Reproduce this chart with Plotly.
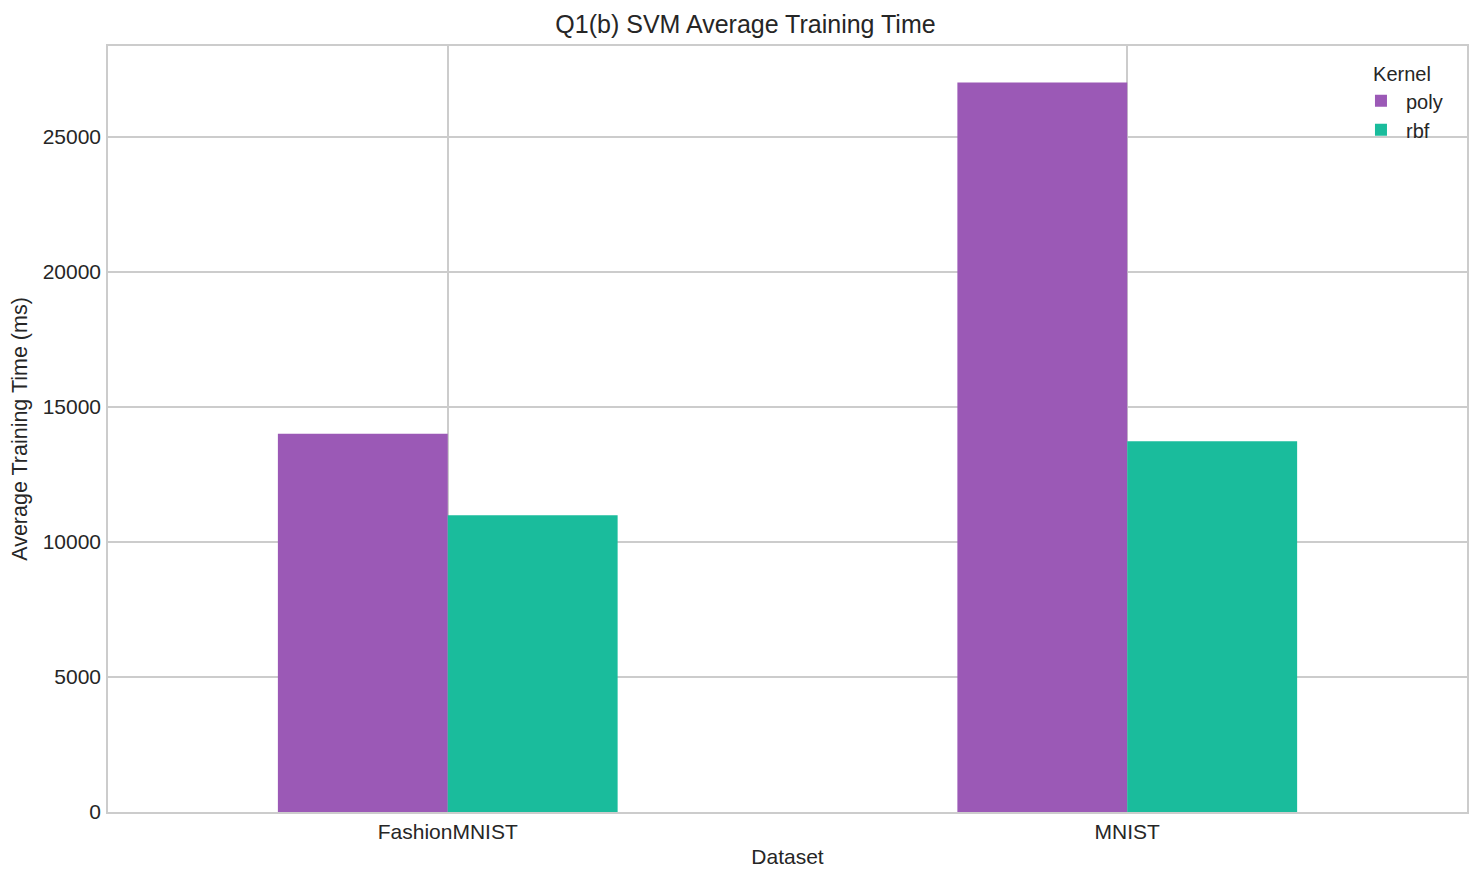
import plotly.graph_objects as go

datasets = ["FashionMNIST", "MNIST"]
kernels = ["poly", "rbf"]
poly_ms = [14000, 27000]
rbf_ms = [10980, 13720]
colors = {"poly": "#9b59b6", "rbf": "#1abc9c"}
series = {"poly": poly_ms, "rbf": rbf_ms}

FONT = "Liberation Sans, Arial, sans-serif"
TXT = "#262626"
GRID = "#cccccc"

# page has an 8px body margin; figure origin is at (8, 8)
W, H = 1475, 873

fig = go.Figure()
for k in kernels:
    fig.add_trace(go.Bar(x=datasets, y=series[k], name=k,
                         marker=dict(color=colors[k], line=dict(width=0))))

fig.update_layout(
    width=W, height=H,
    barmode="group", bargap=0.5, bargroupgap=0,
    plot_bgcolor="white", paper_bgcolor="white",
    margin=dict(l=100, r=16, t=38, b=69),
    font=dict(family=FONT, color=TXT, size=21),
    title=dict(text="Q1(b) SVM Average Training Time", x=0.5, xanchor="center",
               y=1 - 16 / H, yanchor="middle", font=dict(size=25, color=TXT)),
    legend=dict(title=dict(text="Kernel", side="top center", font=dict(size=20)),
                x=0.986, y=0.988, xanchor="right", yanchor="top",
                bgcolor="rgba(0,0,0,0)", font=dict(size=20), itemwidth=40,
                tracegroupgap=0),
    xaxis=dict(range=[-0.5, 1.5], showgrid=True, gridcolor=GRID, gridwidth=1.5,
               showline=True, linecolor=GRID, linewidth=1.5, mirror=True,
               ticks="", ticklabelstandoff=0, automargin=False,
               title=dict(text="Dataset", standoff=7, font=dict(size=21))),
    yaxis=dict(range=[0, 28350], dtick=5000, tickformat="d", showgrid=True,
               gridcolor=GRID, gridwidth=1.5, automargin=False,
               showline=True, linecolor=GRID, linewidth=1.5, mirror=True,
               zeroline=False, ticks="", ticklabelstandoff=1,
               title=dict(text="Average Training Time (ms)", standoff=10, font=dict(size=21.5))),
)

fig.write_html("out.html")
